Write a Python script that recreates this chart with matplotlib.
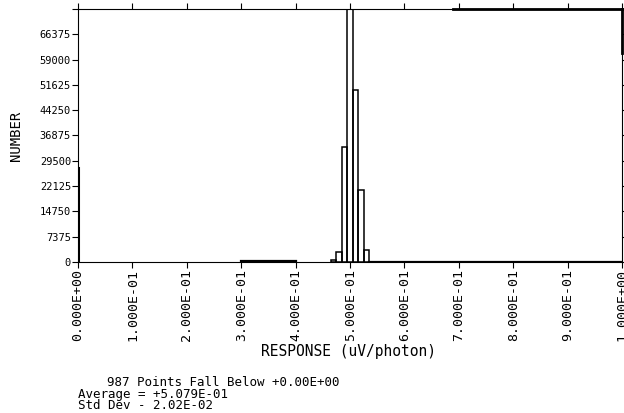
import numpy as np
import matplotlib
matplotlib.use("Agg")
import matplotlib.pyplot as plt

# histogram of detector response, 0.01 wide bins around the peak
bin_width = 0.01
peak_left = [0.465, 0.475, 0.485, 0.495, 0.505, 0.515, 0.525]
peak_counts = [450, 2900, 33500, 80000, 50100, 21000, 3500]

# sparse low-level counts and the overflowed tail
low_span = [0.30, 0.40]
low_count = 150
zero_spike = 27400
overflow_span = [0.69, 1.00]
end_count = 61000

y_max = 73750
y_step = 7375
x_ticks = np.arange(0, 1.0001, 0.1)
x_labels = ["0.000E+00", "1.000E-01", "2.000E-01", "3.000E-01", "4.000E-01",
            "5.000E-01", "6.000E-01", "7.000E-01", "8.000E-01", "9.000E-01",
            "1.000E+00"]
y_ticks = np.arange(0, y_max + 1, y_step)

n_below = 987
average = 5.079E-01
std_dev = 2.02E-02

mono = "DejaVu Sans Mono"

fig = plt.figure(figsize=(6.24, 4.13), dpi=100)
ax = fig.add_axes([0.125, 0.366, 0.872, 0.612])

ax.bar(peak_left, peak_counts, width=bin_width, align="edge",
       fill=False, edgecolor="black", linewidth=1.1)

ax.plot(low_span, [low_count, low_count], color="black", linewidth=1.6)
ax.plot([0, 0], [0, zero_spike], color="black", linewidth=2.2)
ax.plot(overflow_span, [y_max, y_max], color="black", linewidth=2.0, clip_on=False)
ax.plot([overflow_span[1]] * 2, [y_max, end_count], color="black",
        linewidth=2.0, clip_on=False)
ax.plot([peak_left[-1] + bin_width, 1.0], [0, 0], color="black", linewidth=1.6)

ax.set_xlim(0, 1)
ax.set_ylim(0, y_max)
ax.set_xticks(x_ticks)
ax.set_xticklabels(x_labels, rotation=90, family=mono, fontsize=9.5)
ax.set_yticks(y_ticks)
ax.set_yticklabels([str(v) if v < y_max else "" for v in y_ticks],
                   family=mono, fontsize=7.5)
ax.tick_params(direction="out", length=4, width=0.8, pad=1,
               top=True, right=True)
for s in ax.spines.values():
    s.set_linewidth(0.8)

ylab = ax.set_ylabel("NUMBER", family=mono, fontsize=10)
ylab.set_va("center")
ax.yaxis.set_label_coords(-0.114, 0.5)
xlab = ax.set_xlabel("RESPONSE (uV/photon)", family=mono, fontsize=10.5)
xlab.set_va("center")
ax.xaxis.set_label_coords(0.498, -0.356)

fig.text(0.171, 0.075, f"{n_below} Points Fall Below +0.00E+00",
         family=mono, fontsize=9, va="center")
fig.text(0.125, 0.046, f"Average = +{average:.3E}", family=mono,
         fontsize=9, va="center")
fig.text(0.125, 0.017, f"Std Dev - {std_dev:.2E}", family=mono,
         fontsize=9, va="center")

fig.savefig("out.png", dpi=100)
